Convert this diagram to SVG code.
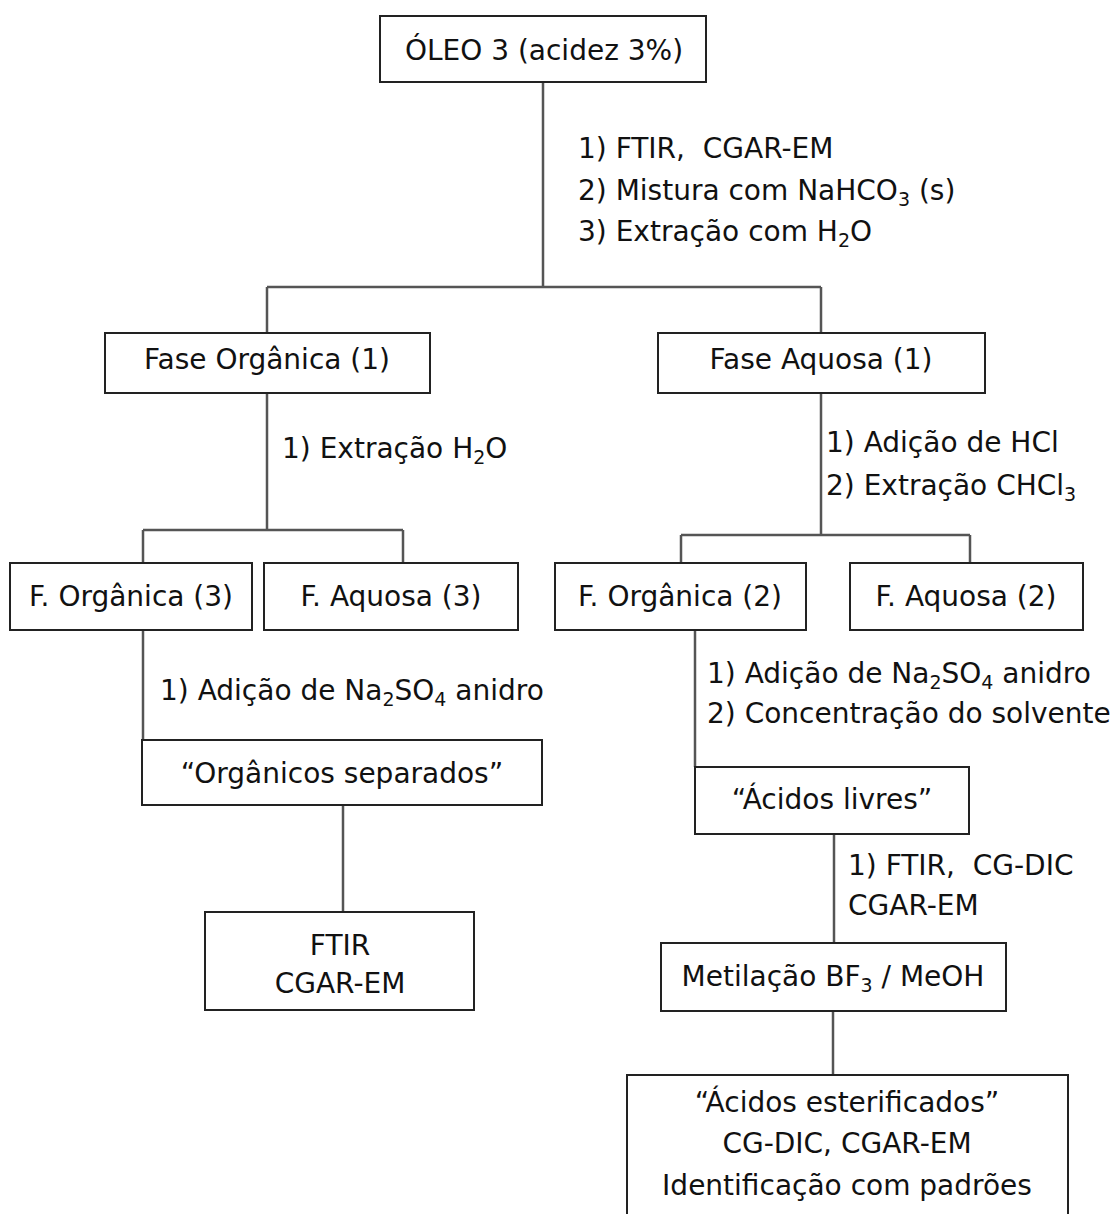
<svg xmlns="http://www.w3.org/2000/svg" width="1119" height="1214" viewBox="0 0 1119 1214">
<style>
.box{fill:#fff;stroke:#222;stroke-width:2}
.c{fill:none;stroke:#555;stroke-width:2.5}
text{font-family:"DejaVu Sans",Verdana,sans-serif;font-size:28px;fill:#111;white-space:pre}
.m{text-anchor:middle}
.s{font-size:19px}
</style>
<rect width="1119" height="1214" fill="#fff"/>
<g id="connectors">
<path class="c" d="M543 82V287M267 287H821M267 287V333M821 287V333"/>
<path class="c" d="M267 393V530M143 530H403M143 530V563M403 530V563"/>
<path class="c" d="M821 393V535M681 535H970M681 535V563M970 535V563"/>
<path class="c" d="M143 630V740"/>
<path class="c" d="M343 805V912"/>
<path class="c" d="M695 630V767"/>
<path class="c" d="M834 834V943"/>
<path class="c" d="M833 1011V1075"/>
</g>
<g id="labels">
<text x="578" y="158" xml:space="preserve">1) FTIR,  CGAR-EM</text>
<text x="578" y="200">2) Mistura com NaHCO<tspan class="s" dy="6">3</tspan><tspan dy="-6"> (s)</tspan></text>
<text x="578" y="241">3) Extração com H<tspan class="s" dy="6">2</tspan><tspan dy="-6">O</tspan></text>
<text x="282" y="458">1) Extração H<tspan class="s" dy="6">2</tspan><tspan dy="-6">O</tspan></text>
<text x="826" y="452">1) Adição de HCl</text>
<text x="826" y="495">2) Extração CHCl<tspan class="s" dy="6">3</tspan></text>
<text x="160" y="700">1) Adição de Na<tspan class="s" dy="6">2</tspan><tspan dy="-6">SO</tspan><tspan class="s" dy="6">4</tspan><tspan dy="-6"> anidro</tspan></text>
<text x="707" y="683">1) Adição de Na<tspan class="s" dy="6">2</tspan><tspan dy="-6">SO</tspan><tspan class="s" dy="6">4</tspan><tspan dy="-6"> anidro</tspan></text>
<text x="707" y="723">2) Concentração do solvente</text>
<text x="848" y="875" xml:space="preserve">1) FTIR,  CG-DIC</text>
<text x="848" y="915">CGAR-EM</text>
</g>
<g id="n-oleo"><rect class="box" x="380" y="16" width="326" height="66"/><text class="m" x="544" y="60">ÓLEO 3 (acidez 3%)</text></g>
<g id="n-fo1"><rect class="box" x="105" y="333" width="325" height="60"/><text class="m" x="267" y="369">Fase Orgânica (1)</text></g>
<g id="n-fa1"><rect class="box" x="658" y="333" width="327" height="60"/><text class="m" x="821" y="369">Fase Aquosa (1)</text></g>
<g id="n-fo3"><rect class="box" x="10" y="563" width="242" height="67"/><text class="m" x="131" y="606">F. Orgânica (3)</text></g>
<g id="n-fa3"><rect class="box" x="264" y="563" width="254" height="67"/><text class="m" x="391" y="606">F. Aquosa (3)</text></g>
<g id="n-fo2"><rect class="box" x="555" y="563" width="251" height="67"/><text class="m" x="680" y="606">F. Orgânica (2)</text></g>
<g id="n-fa2"><rect class="box" x="850" y="563" width="233" height="67"/><text class="m" x="966" y="606">F. Aquosa (2)</text></g>
<g id="n-orgsep"><rect class="box" x="142" y="740" width="400" height="65"/><text class="m" x="342" y="783">“Orgânicos separados”</text></g>
<g id="n-ftir"><rect class="box" x="205" y="912" width="269" height="98"/><text class="m" x="340" y="955">FTIR</text><text class="m" x="340" y="993">CGAR-EM</text></g>
<g id="n-acliv"><rect class="box" x="695" y="767" width="274" height="67"/><text class="m" x="832" y="809">“Ácidos livres”</text></g>
<g id="n-metil"><rect class="box" x="661" y="943" width="345" height="68"/><text class="m" x="833" y="986">Metilação BF<tspan class="s" dy="6">3</tspan><tspan dy="-6"> / MeOH</tspan></text></g>
<g id="n-acest"><rect class="box" x="627" y="1075" width="441" height="160"/><text class="m" x="847" y="1112">“Ácidos esterificados”</text><text class="m" x="847" y="1153">CG-DIC, CGAR-EM</text><text class="m" x="847" y="1195">Identificação com padrões</text></g>
</svg>
